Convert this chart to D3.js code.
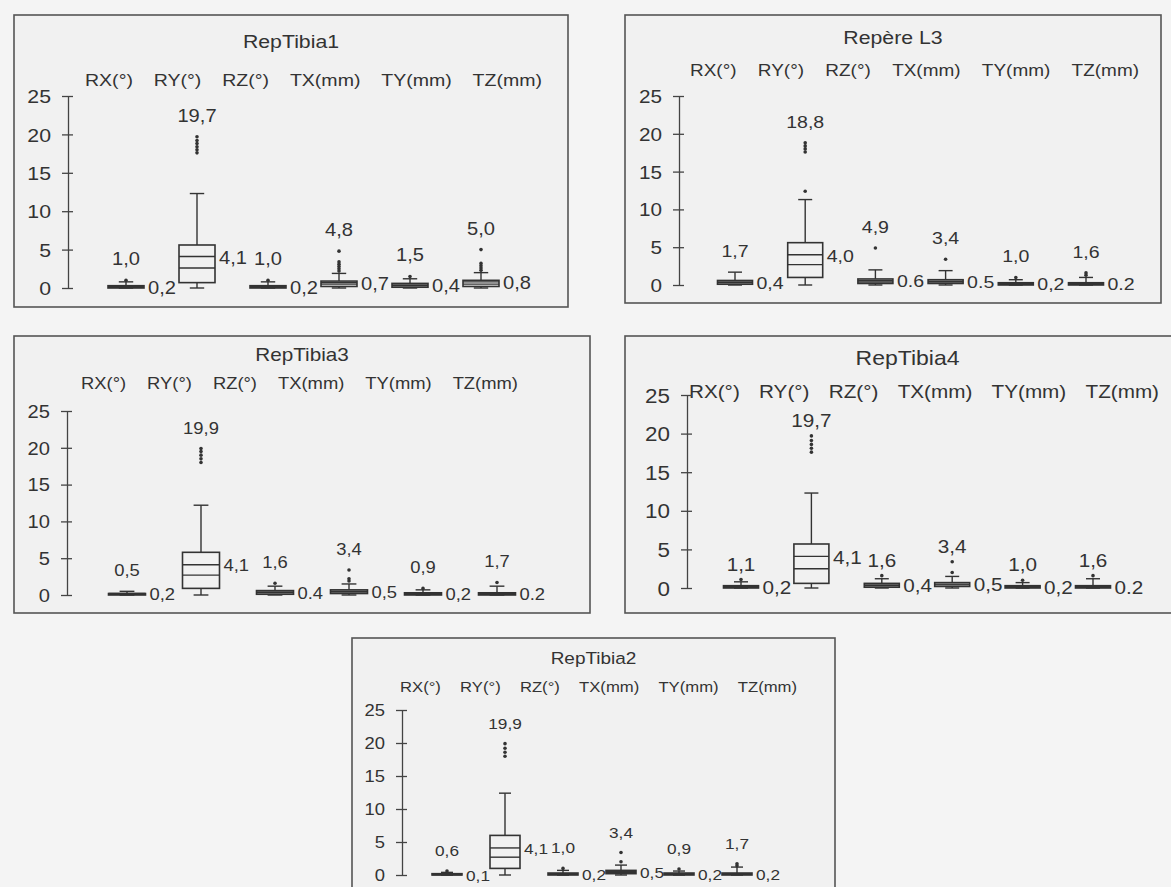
<!DOCTYPE html>
<html><head><meta charset="utf-8">
<script src="https://cdn.jsdelivr.net/npm/d3@7"></script>
<style>
html,body{margin:0;padding:0;background:#f4f4f4;}
svg{display:block;}
text{font-family:"Liberation Sans",Arial,Helvetica,sans-serif;fill:#333;}
</style></head><body>
<svg id="chart" width="1171" height="887"></svg>
<script>
// ---------- DATA ----------
const categories = ["RX(°)", "RY(°)", "RZ(°)", "TX(mm)", "TY(mm)", "TZ(mm)"];
const panelTitles = ["RepTibia1", "Repère L3", "RepTibia3", "RepTibia4", "RepTibia2"];
const yTicks = [0, 5, 10, 15, 20, 25];

// one row per panel (same order as panelTitles), one value per category
const whiskerLow = [
  [0, 0, 0, 0, 0, 0],
  [0, 0, 0, 0, 0, 0],
  [0, 0, 0, 0, 0, 0],
  [0, 0, 0, 0, 0, 0],
  [0, 0, 0, 0, 0, 0]
];
const q1 = [
  [0.0, 0.7, 0.0, 0.2, 0.1, 0.2],
  [0.1, 1.0, 0.2, 0.2, 0.0, 0.0],
  [0.0, 0.9, 0.1, 0.2, 0.0, 0.0],
  [0.0, 0.6, 0.1, 0.2, 0.0, 0.0],
  [0.0, 1.0, 0.0, 0.2, 0.0, 0.0]
];
const medians = [
  [0.1, 2.6, 0.1, 0.5, 0.3, 0.5],
  [0.3, 2.7, 0.4, 0.4, 0.1, 0.1],
  [0.1, 2.7, 0.3, 0.4, 0.1, 0.1],
  [0.1, 2.5, 0.3, 0.4, 0.1, 0.1],
  [0.05, 2.7, 0.1, 0.4, 0.1, 0.1]
];
const q3 = [
  [0.3, 5.6, 0.3, 0.9, 0.6, 1.0],
  [0.6, 5.6, 0.8, 0.7, 0.3, 0.3],
  [0.2, 5.8, 0.6, 0.7, 0.3, 0.3],
  [0.3, 5.7, 0.6, 0.7, 0.3, 0.3],
  [0.2, 6.0, 0.3, 0.7, 0.3, 0.3]
];
const means = [
  [0.2, 4.1, 0.2, 0.7, 0.4, 0.8],
  [0.4, 4.0, 0.6, 0.5, 0.2, 0.2],
  [0.2, 4.1, 0.4, 0.5, 0.2, 0.2],
  [0.2, 4.1, 0.4, 0.5, 0.2, 0.2],
  [0.1, 4.1, 0.2, 0.5, 0.2, 0.2]
];
const whiskerHigh = [
  [0.8, 12.3, 0.8, 1.9, 1.2, 2.0],
  [1.7, 11.3, 2.0, 1.9, 0.7, 1.0],
  [0.5, 12.2, 1.2, 1.5, 0.7, 1.2],
  [0.8, 12.3, 1.2, 1.5, 0.7, 1.2],
  [0.4, 12.4, 0.7, 1.5, 0.6, 1.2]
];
const outliers = [
  [[1.0], [17.6, 18.0, 18.4, 18.8, 19.2, 19.7], [1.0], [2.2, 2.5, 2.8, 3.1, 3.4, 4.8], [1.5], [2.3, 2.6, 2.9, 3.2, 5.0]],
  [[], [12.4, 17.6, 18.0, 18.4, 18.8], [4.9], [3.4], [1.0], [1.3, 1.6]],
  [[], [18.0, 18.5, 19.0, 19.5, 19.9], [1.6], [1.9, 2.2, 3.4], [0.9], [1.7]],
  [[1.1], [17.6, 18.1, 18.6, 19.1, 19.7], [1.6], [2.0, 3.4], [1.0], [1.6]],
  [[0.6], [18.0, 18.6, 19.2, 19.9], [1.0], [2.0, 3.4], [0.9], [1.4, 1.7]]
];
const maxLabels = [
  ["1,0", "19,7", "1,0", "4,8", "1,5", "5,0"],
  ["1,7", "18,8", "4,9", "3,4", "1,0", "1,6"],
  ["0,5", "19,9", "1,6", "3,4", "0,9", "1,7"],
  ["1,1", "19,7", "1,6", "3,4", "1,0", "1,6"],
  ["0,6", "19,9", "1,0", "3,4", "0,9", "1,7"]
];
const meanLabels = [
  ["0,2", "4,1", "0,2", "0,7", "0,4", "0,8"],
  ["0,4", "4,0", "0.6", "0.5", "0,2", "0.2"],
  ["0,2", "4,1", "0.4", "0,5", "0,2", "0.2"],
  ["0,2", "4,1", "0,4", "0,5", "0,2", "0.2"],
  ["0,1", "4,1", "0,2", "0,5", "0,2", "0,2"]
];

// ---------- LAYOUT ----------
const layouts = [
  {frame:[14,15,568,307], axisX:68, y0:288, y25:96, boxX:[126,481], boxW:36, titleY:42, catY:80, catX:[85,542],
   fTitle:18.5, fCat:17, fTick:18.5, fVal:17.5, gap:15},
  {frame:[625,15,1161,303], axisX:679, y0:285, y25:96, boxX:[735,1086], boxW:35, titleY:38, catY:70, catX:[690,1139],
   fTitle:18.5, fCat:16.5, fTick:18, fVal:17, gap:15},
  {frame:[14,336,590,613], axisX:67, y0:595, y25:411, boxX:[127,497], boxW:37, titleY:355, catY:383, catX:[81,518],
   fTitle:18, fCat:16, fTick:17.5, fVal:16, gap:15},
  {frame:[625,336,1190,613], axisX:687, y0:588, y25:395, boxX:[741,1093], boxW:35, titleY:358, catY:392, catX:[689,1159],
   fTitle:20, fCat:18, fTick:19.5, fVal:18, gap:9},
  {frame:[352,638,835,905], axisX:402, y0:875, y25:710, boxX:[447,737], boxW:30, titleY:658, catY:687, catX:[400,797],
   fTitle:16.5, fCat:14.5, fTick:16, fVal:15, gap:15}
];
const S = 1.15;          // horizontal stretch of the scanned lettering
const INK = "#333";
const PANEL_BG = "#f1f1f1";

const svg = d3.select("#chart");
svg.append("rect").attr("width", 1171).attr("height", 887).attr("fill", "#f4f4f4");

function addText(g, x, y, str, size, anchor) {
  return g.append("text")
    .attr("transform", `translate(${x},${y}) scale(${S},1)`)
    .attr("text-anchor", anchor || "middle")
    .attr("font-size", size)
    .text(str);
}

panelTitles.forEach((title, p) => {
  const L = layouts[p];
  const g = svg.append("g");
  const [fx0, fy0, fx1, fy1] = L.frame;
  g.append("rect").attr("x", fx0).attr("y", fy0).attr("width", fx1 - fx0).attr("height", fy1 - fy0)
    .attr("fill", PANEL_BG).attr("stroke", "#555").attr("stroke-width", 1.6);

  addText(g, (fx0 + fx1) / 2, L.titleY, title, L.fTitle).attr("dy", "0.35em");

  // category header row, laid out sequentially with equal gaps
  const cats = categories.map(c => addText(g, 0, L.catY, c, L.fCat, "start").attr("dy", "0.35em"));
  const widths = cats.map(t => t.node().getComputedTextLength() * S);
  const gap = (L.catX[1] - L.catX[0] - d3.sum(widths)) / (categories.length - 1);
  let cx0 = L.catX[0];
  cats.forEach((t, i) => {
    t.attr("transform", `translate(${cx0},${L.catY}) scale(${S},1)`);
    cx0 += widths[i] + gap;
  });

  const y = d3.scaleLinear().domain([0, 25]).range([L.y0, L.y25]);
  const x = d3.scalePoint().domain(categories).range(L.boxX);

  const axis = g.append("g").attr("transform", `translate(${L.axisX},0)`)
    .call(d3.axisLeft(y).tickValues(yTicks).tickSize(6).tickSizeOuter(0).tickPadding(0));
  axis.select(".domain").attr("stroke", "#444").attr("stroke-width", 1.3);
  axis.selectAll(".tick line").attr("x1", 5).attr("stroke", "#444").attr("stroke-width", 1.3);
  axis.selectAll(".tick text").attr("x", null).attr("dy", "0.36em")
    .attr("font-size", L.fTick).attr("text-anchor", "end")
    .attr("transform", `translate(-17,0) scale(${S},1)`);

  categories.forEach((c, i) => {
    const cx = x(c), w = L.boxW, cap = w * 0.4;
    const bg = g.append("g").attr("stroke", INK).attr("stroke-width", 1.4).attr("fill", "none");
    // whiskers
    bg.append("line").attr("x1", cx).attr("x2", cx).attr("y1", y(q1[p][i])).attr("y2", y(whiskerLow[p][i]));
    bg.append("line").attr("x1", cx - cap / 2).attr("x2", cx + cap / 2).attr("y1", y(whiskerLow[p][i])).attr("y2", y(whiskerLow[p][i]));
    bg.append("line").attr("x1", cx).attr("x2", cx).attr("y1", y(q3[p][i])).attr("y2", y(whiskerHigh[p][i]));
    bg.append("line").attr("x1", cx - cap / 2).attr("x2", cx + cap / 2).attr("y1", y(whiskerHigh[p][i])).attr("y2", y(whiskerHigh[p][i]));
    // box
    bg.append("rect").attr("x", cx - w / 2).attr("width", w)
      .attr("y", y(q3[p][i])).attr("height", Math.max(0.5, y(q1[p][i]) - y(q3[p][i])))
      .attr("fill", PANEL_BG).attr("stroke-width", 1.6);
    // median & mean lines
    [medians[p][i], means[p][i]].forEach(v => {
      bg.append("line").attr("x1", cx - w / 2).attr("x2", cx + w / 2).attr("y1", y(v)).attr("y2", y(v));
    });
    // outliers
    g.selectAll(null).data(outliers[p][i]).enter().append("circle")
      .attr("cx", cx).attr("cy", d => y(d)).attr("r", 1.8).attr("fill", INK);
    // labels
    const top = d3.max([whiskerHigh[p][i], ...outliers[p][i]]);
    addText(g, cx, y(top) - L.gap, maxLabels[p][i], L.fVal);
    addText(g, cx + w / 2 + 4, y(means[p][i]) + 1, meanLabels[p][i], L.fVal, "start").attr("dy", "0.35em");
  });
});
</script>
</body></html>
